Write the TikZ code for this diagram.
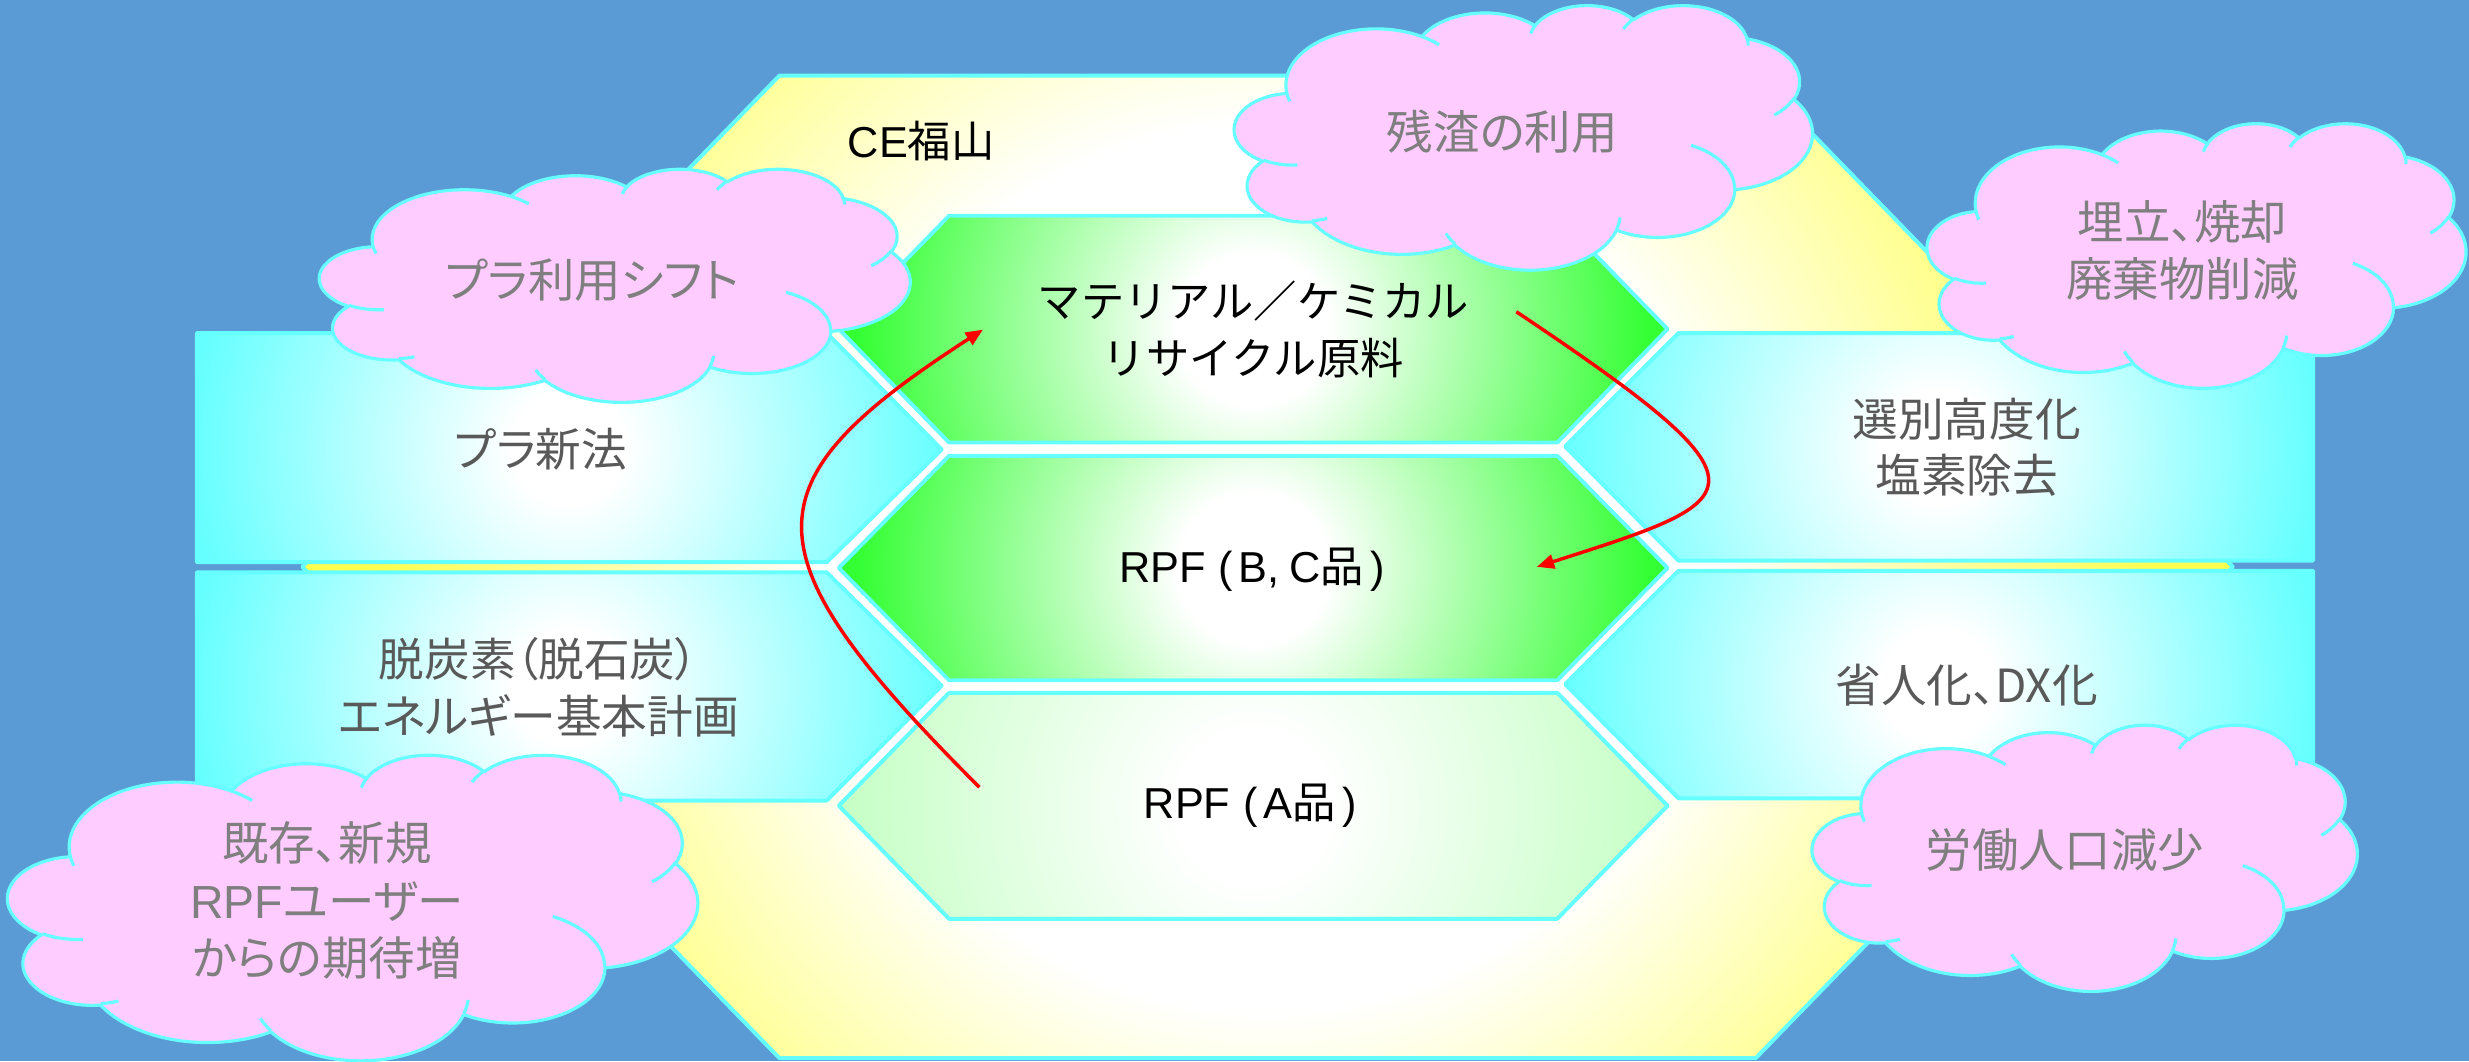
\documentclass[tikz,border=0pt]{standalone}
\usepackage{fontspec}
\setmainfont[RawFeature=+palt]{Noto Sans CJK JP}
\newfontfamily\latf{Liberation Sans}
\newfontfamily\fullw{Noto Sans CJK JP}
\usetikzlibrary{arrows.meta}
\definecolor{bgblue}{HTML}{5B9BD5}
\definecolor{cyanl}{HTML}{66FFFF}
\definecolor{pinkc}{HTML}{FFCCFF}
\definecolor{yelc}{HTML}{FFFF50}
\definecolor{grnc}{HTML}{33FF33}
\definecolor{pgrnc}{HTML}{C4FFC4}
\definecolor{graytxt}{HTML}{595959}
\definecolor{cloudtxt}{HTML}{7F7F7F}
\pgfdeclareradialshading{yelshade}{\pgfpoint{0bp}{0bp}}{color(0bp)=(white); color(11bp)=(white); color(22bp)=(yelc); color(50bp)=(yelc)}
\pgfdeclareradialshading{cyanshade}{\pgfpoint{0bp}{0bp}}{color(0bp)=(white); color(3bp)=(white); color(20bp)=(cyanl); color(50bp)=(cyanl)}
\pgfdeclareradialshading{grnshade}{\pgfpoint{0bp}{0bp}}{color(0bp)=(white); color(4bp)=(white); color(21bp)=(grnc); color(50bp)=(grnc)}
\pgfdeclareradialshading{pgrnshade}{\pgfpoint{0bp}{0bp}}{color(0bp)=(white); color(4bp)=(white); color(22bp)=(pgrnc); color(50bp)=(pgrnc)}
\makeatletter
\newcommand\cldcalc[5]{%
  \pgfmathsetmacro\cld@a{atan2((#2)*sin(#4),(#3)*cos(#4))}%
  \pgfmathsetmacro\cld@b{atan2((#2)*sin((#4)+(#5)),(#3)*cos((#4)+(#5)))}%
  \pgfmathsetmacro\cld@d{mod(\cld@b-\cld@a+720,360)}%
  \pgfmathsetmacro\cld@d{(#5>0)?(\cld@d):(\cld@d-360)}%
  \expandafter\xdef\csname cldS#1\endcsname{\cld@a}%
  \expandafter\xdef\csname cldD#1\endcsname{\cld@d}%
}
\makeatother
\cldcalc{a}{6.753}{9.190}{-190.48748}{123.78053}
\cldcalc{b}{5.333}{7.267}{-144.10238}{89.94523}
\cldcalc{c}{4.365}{5.945}{-145.80792}{99.72302}
\cldcalc{d}{4.857}{6.595}{-130.98607}{117.24173}
\cldcalc{e}{5.333}{7.273}{-78.70888}{109.02692}
\cldcalc{f}{6.775}{9.220}{-46.26725}{130.269}
\cldcalc{g}{5.785}{7.867}{0.62502}{114.03333}
\cldcalc{h}{6.752}{9.215}{22.4516}{115.17255}
\cldcalc{i}{7.720}{10.543}{66.24263}{75.71102}
\cldcalc{j}{4.360}{5.918}{-274.94208}{146.73557}
\cldcalc{k}{4.345}{5.945}{-246.8285}{152.51885}
\cldcalc{m}{4.345}{5.945}{86.742}{26.4295}
\cldcalc{n}{4.360}{5.918}{73.61047}{11.44747}
\cldcalc{o}{6.752}{9.215}{137.62415}{14.0811}
\cldcalc{p}{6.752}{9.215}{6.45327}{15.99835}
\cldcalc{q}{5.785}{7.867}{-70.29235}{70.91737}
\cldcalc{r}{5.333}{7.273}{30.31803}{27.7515}
\cldcalc{s}{4.857}{6.595}{-13.74433}{14.8589}
\cldcalc{t}{4.857}{6.595}{-149.18145}{18.19537}
\cldcalc{u}{4.365}{5.945}{-163.49427}{17.68635}
\cldcalc{v}{6.753}{9.190}{-66.70695}{12.31935}
\cldcalc{w}{6.753}{9.190}{157.65435}{11.85817}
\newcommand\cloudouter{(3.900,14.370)
 arc[x radius=6.753pt, y radius=9.190pt, start angle=\cldSa, delta angle=\cldDa]
 arc[x radius=5.333pt, y radius=7.267pt, start angle=\cldSb, delta angle=\cldDb]
 arc[x radius=4.365pt, y radius=5.945pt, start angle=\cldSc, delta angle=\cldDc]
 arc[x radius=4.857pt, y radius=6.595pt, start angle=\cldSd, delta angle=\cldDd]
 arc[x radius=5.333pt, y radius=7.273pt, start angle=\cldSe, delta angle=\cldDe]
 arc[x radius=6.775pt, y radius=9.220pt, start angle=\cldSf, delta angle=\cldDf]
 arc[x radius=5.785pt, y radius=7.867pt, start angle=\cldSg, delta angle=\cldDg]
 arc[x radius=6.752pt, y radius=9.215pt, start angle=\cldSh, delta angle=\cldDh]
 arc[x radius=7.720pt, y radius=10.543pt, start angle=\cldSi, delta angle=\cldDi]
 arc[x radius=4.360pt, y radius=5.918pt, start angle=\cldSj, delta angle=\cldDj]
 arc[x radius=4.345pt, y radius=5.945pt, start angle=\cldSk, delta angle=\cldDk]
 -- cycle}
\newcommand\cloudinner{
 (4.693,26.177) arc[x radius=4.345pt, y radius=5.945pt, start angle=\cldSm, delta angle=\cldDm]
 (6.928,34.899) arc[x radius=4.360pt, y radius=5.918pt, start angle=\cldSn, delta angle=\cldDn]
 (16.478,39.090) arc[x radius=6.752pt, y radius=9.215pt, start angle=\cldSo, delta angle=\cldDo]
 (28.827,34.751) arc[x radius=6.752pt, y radius=9.215pt, start angle=\cldSp, delta angle=\cldDp]
 (34.129,22.954) arc[x radius=5.785pt, y radius=7.867pt, start angle=\cldSq, delta angle=\cldDq]
 (41.798,15.354) arc[x radius=5.333pt, y radius=7.273pt, start angle=\cldSr, delta angle=\cldDr]
 (38.324,5.426) arc[x radius=4.857pt, y radius=6.595pt, start angle=\cldSs, delta angle=\cldDs]
 (29.078,3.952) arc[x radius=4.857pt, y radius=6.595pt, start angle=\cldSt, delta angle=\cldDt]
 (22.141,4.720) arc[x radius=4.365pt, y radius=5.945pt, start angle=\cldSu, delta angle=\cldDu]
 (14.000,5.192) arc[x radius=6.753pt, y radius=9.190pt, start angle=\cldSv, delta angle=\cldDv]
 (4.127,15.789) arc[x radius=6.753pt, y radius=9.190pt, start angle=\cldSw, delta angle=\cldDw]}
\tikzset{
  cyanedge/.style={draw=cyanl, line width=2.5pt},
  cloudfill/.style={fill=pinkc, draw=cyanl, line width=2pt},
  cloudcurl/.style={draw=cyanl, line width=2pt},
  blktxt/.style={text=black, font=\fontsize{27.5}{36}\selectfont, align=center, inner sep=0pt},
  boxtxt/.style={text=graytxt, font=\fontsize{29}{36}\selectfont, align=center, inner sep=0pt},
  cldtxt/.style={text=cloudtxt, font=\fontsize{29.5}{36.5}\selectfont, align=center, inner sep=0pt},
  redarrow/.style={draw=red, line width=2.2pt, -{Triangle[length=11pt,width=9pt]}}
}
\newcommand\drawcloud[4]{%
  \begin{scope}[shift={(#1,#2)}, xscale=#3/43.2, yscale=#4/43.2]
    \path[cloudfill] \cloudouter;
    \path[cloudcurl] \cloudinner;
  \end{scope}}
\begin{document}
\begin{tikzpicture}[x=1pt, y=1pt, yscale=-1, line join=round]
\fill[bgblue] (0,0) rectangle (1568,674);
\useasboundingbox (0,0) rectangle (1568,674);
% outer yellow hexagon
\def\yelhex{(495,48) -- (1115,48) -- (1418,360) -- (1115,672) -- (495,672) -- (192,360) -- cycle}
\begin{scope}\clip \yelhex; \shade[shading=yelshade] (805,360) circle (640pt); \end{scope}
\path[cyanedge] \yelhex;
% cyan boxes
\def\boxLT{(125,211.5) -- (525,211.5) -- (598,285.5) -- (525,357) -- (125,357) -- cycle}
\def\boxLB{(125,363.5) -- (525,363.5) -- (598,435.5) -- (525,508.4) -- (125,508.4) -- cycle}
\def\boxRT{(1066,211.5) -- (1469,211.5) -- (1469,356) -- (1066,356) -- (994,283.5) -- cycle}
\def\boxRB{(1066,362.5) -- (1469,362.5) -- (1469,507) -- (1066,507) -- (994,434.5) -- cycle}
\begin{scope}\clip \boxLT; \shade[shading=cyanshade] (361,284) circle (300pt); \end{scope}
\begin{scope}\clip \boxLB; \shade[shading=cyanshade] (361,436) circle (300pt); \end{scope}
\begin{scope}\clip \boxRT; \shade[shading=cyanshade] (1231,284) circle (300pt); \end{scope}
\begin{scope}\clip \boxRB; \shade[shading=cyanshade] (1231,435) circle (300pt); \end{scope}
\path[cyanedge] \boxLT; \path[cyanedge] \boxLB; \path[cyanedge] \boxRT; \path[cyanedge] \boxRB;
% green hexagons
\def\hexT{(602.7,137) -- (989,137) -- (1059,209) -- (989,281) -- (602.7,281) -- (532.7,209) -- cycle}
\def\hexM{(602.7,289.5) -- (989,289.5) -- (1059,360.7) -- (989,432) -- (602.7,432) -- (532.7,360.7) -- cycle}
\def\hexB{(602.7,440) -- (989,440) -- (1059,511.7) -- (989,583.5) -- (602.7,583.5) -- (532.7,511.7) -- cycle}
\begin{scope}\clip \hexT; \shade[shading=grnshade] (796,209) circle (300pt); \end{scope}
\begin{scope}\clip \hexM; \shade[shading=grnshade] (796,361) circle (300pt); \end{scope}
\begin{scope}\clip \hexB; \shade[shading=pgrnshade] (796,512) circle (300pt); \end{scope}
\path[cyanedge] \hexT; \path[cyanedge] \hexM; \path[cyanedge] \hexB;
% red arrows
\coordinate (a1s) at (622,500);
\coordinate (a1e) at (624.3,209.3);
\coordinate (a2s) at (963,198);
\coordinate (a2e) at (976,360);
\draw[redarrow] (a1s) .. controls (472,350) and (473,307) .. (a1e);
\draw[redarrow] (a2s) .. controls (1132,311) and (1112,316.5) .. (a2e);
% clouds
\drawcloud{203}{107}{375}{148}
\drawcloud{784}{3}{367}{168}
\drawcloud{1224}{78}{342}{168}
\drawcloud{5}{479}{438}{194}
\drawcloud{1151}{460}{346}{169}
% texts
\node[blktxt] (ce) at (585,89.5) {{\latf CE}福山};
\node[blktxt] (mat) at (796,209) {{\fullw マテリアル／ケミカル}\\{\fullw リサイクル原料}};
\node[blktxt] (rpfbc) at (795,362) {{\latf RPF\hspace{8pt}(\hspace{4pt}B,\hspace{6pt}C}品{\latf \hspace{4pt})}};
\node[blktxt] (rpfa) at (794,512) {{\latf RPF\hspace{8pt}(\hspace{4pt}A}品{\latf \hspace{4pt})}};
\node[boxtxt] (pla) at (343.5,285) {プラ新法};
\node[boxtxt] (dec) at (342,436.4) {脱炭素（脱石炭）\\エネルギー基本計画};
\node[boxtxt] (sel) at (1249,284) {選別高度化\\塩素除去};
\node[boxtxt] (dx) at (1249,435) {省人化、DX化};
\node[cldtxt] (zan) at (954,83.5) {残渣の利用};
\node[cldtxt] (shift) at (376,177.6) {プラ利用シフト};
\node[cldtxt] (umet) at (1386,159) {埋立、焼却\\廃棄物削減};
\node[cldtxt] (kiz) at (207.6,572) {既存、新規\\{\latf RPF}ユーザー\\からの期待増};
\node[cldtxt] (rou) at (1311.4,540) {労働人口減少};
\end{tikzpicture}
\end{document}
